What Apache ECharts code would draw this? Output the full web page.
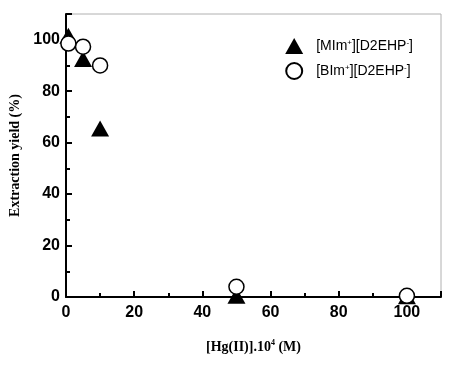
<!DOCTYPE html>
<html><head><meta charset="utf-8">
<script src="https://cdn.jsdelivr.net/npm/echarts@6/dist/echarts.min.js"></script>
<style>html,body{margin:0;padding:0;background:#fff}#c{width:460px;height:365px}</style>
</head><body><div id="c"></div>
<script>
const seriesNames = ['MIm', 'BIm'];
const concentrations = [0.7, 5, 10, 50, 100];
const mimYield = [101.5, 92.5, 65.5, 0.5, 0.3];
const bimYield = [98.5, 97.3, 90, 4, 0.5];
const xTicks = [0, 20, 40, 60, 80, 100];
const yTicks = [0, 20, 40, 60, 80, 100];

const chart = echarts.init(document.getElementById('c'), null, {renderer: 'canvas'});
const pair = (xs, ys) => xs.map((x, i) => [x, ys[i]]);
const legendRich = {
  t: {fontFamily: 'Liberation Sans, Arial', fontSize: 14, color: '#000', padding: [0, 0, 0, 0]},
  p: {fontFamily: 'Liberation Sans, Arial', fontSize: 14, color: '#000', padding: [0, 0, 0, 8]},
  s: {fontFamily: 'Liberation Sans, Arial', fontSize: 8, color: '#000', verticalAlign: 'top', padding: [0, 0, 7, 0]}
};
chart.setOption({
  animation: false,
  grid: {left: 66, top: 14, right: 19, bottom: 68, show: true, borderColor: '#b0b0b0', borderWidth: 1},
  legend: {
    right: 42, top: 33, orient: 'vertical', itemWidth: 18, itemHeight: 16, itemGap: 8,
    data: [{name: seriesNames[0], icon: 'triangle'}, {name: seriesNames[1], icon: 'circle'}],
    formatter: n => n === 'MIm' ? '{p|[MIm}{s|+}{t|][D2EHP}{s|-}{t|]}' : '{p|[BIm}{s|+}{t|][D2EHP}{s|-}{t|]}',
    textStyle: {rich: legendRich}
  },
  xAxis: {
    type: 'value', min: 0, max: 110, interval: 20,
    name: '{a|[Hg(II)].10}{b|4}{a| (M)}', nameLocation: 'middle', nameGap: 42,
    nameTextStyle: {rich: {
      a: {fontFamily: 'Liberation Serif, Times New Roman', fontWeight: 'bold', fontSize: 14, color: '#000'},
      b: {fontFamily: 'Liberation Serif, Times New Roman', fontWeight: 'bold', fontSize: 8, color: '#000', verticalAlign: 'top', padding: [0, 0, 8, 0]}
    }},
    axisLine: {lineStyle: {color: '#000', width: 2}},
    axisTick: {inside: true, length: 6, lineStyle: {color: '#000', width: 2}},
    minorTick: {show: true, splitNumber: 2, length: 4, lineStyle: {color: '#000', width: 2}},
    splitLine: {show: false},
    axisLabel: {color: '#000', fontFamily: 'Liberation Sans, Arial', fontWeight: 'bold', fontSize: 16, margin: 8,
      formatter: v => xTicks.includes(v) ? String(v) : ''}
  },
  yAxis: {
    type: 'value', min: 0, max: 110, interval: 20,
    name: 'Extraction yield (%)', nameLocation: 'middle', nameGap: 44,
    nameTextStyle: {fontFamily: 'Liberation Serif, Times New Roman', fontWeight: 'bold', fontSize: 14, color: '#000'},
    axisLine: {lineStyle: {color: '#000', width: 2}},
    axisTick: {inside: true, length: 6, lineStyle: {color: '#000', width: 2}},
    minorTick: {show: true, splitNumber: 2, length: 4, lineStyle: {color: '#000', width: 2}},
    splitLine: {show: false},
    axisLabel: {color: '#000', fontFamily: 'Liberation Sans, Arial', fontWeight: 'bold', fontSize: 16, margin: 6,
      formatter: v => yTicks.includes(v) ? String(v) : ''}
  },
  series: [
    {name: seriesNames[0], type: 'scatter', symbol: 'triangle', symbolSize: [18, 16], z: 2,
     itemStyle: {color: '#000', opacity: 1}, data: pair(concentrations, mimYield)},
    {name: seriesNames[1], type: 'scatter', symbol: 'circle', symbolSize: 15, z: 3,
     itemStyle: {color: '#fff', borderColor: '#000', borderWidth: 1.5, opacity: 1}, data: pair(concentrations, bimYield)}
  ]
});
</script></body></html>
